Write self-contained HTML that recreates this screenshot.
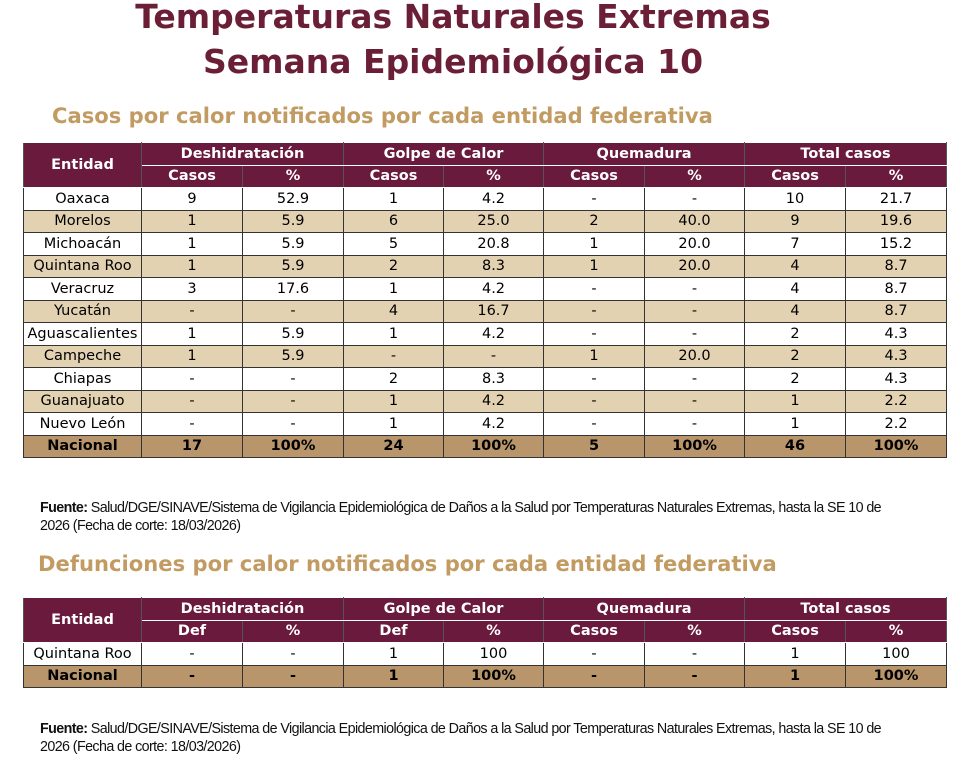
<!DOCTYPE html>
<html><head><meta charset="utf-8"><style>
body{margin:0;width:968px;height:758px;background:#fff;position:relative;overflow:hidden;font-family:"DejaVu Sans","Liberation Sans",sans-serif}
.t{position:absolute;left:0;width:906px;text-align:center;color:#6b1f37;font-weight:bold;font-size:33px;letter-spacing:0px}
.s{position:absolute;color:#c29b62;font-weight:bold;font-size:21.1px;white-space:nowrap}
table{position:absolute;left:23px;border-collapse:collapse;table-layout:fixed;width:923px;font-size:14.5px}
td{border:1px solid #333;text-align:center;padding:0;height:21.5px;line-height:20px;white-space:nowrap;overflow:hidden}
.h td{background:#6a1a3c;color:#fff;font-weight:bold;border-color:#fff #555}
.a td{background:#e3d2b2}
.n td{background:#b8956a;font-weight:bold}
.f{position:absolute;left:40px;font-family:"Liberation Sans",sans-serif;font-size:14.3px;letter-spacing:-0.6px;line-height:18px;color:#111;white-space:nowrap}
</style></head><body>
<div class="t" style="top:-3px">Temperaturas Naturales Extremas</div>
<div class="t" style="top:42px">Semana Epidemiológica 10</div>
<div class="s" style="top:103px;left:52px">Casos por calor notificados por cada entidad federativa</div>
<table style="top:142px">
<colgroup><col style="width:118px"><col style="width:101px"><col style="width:101px"><col style="width:100px"><col style="width:100px"><col style="width:101px"><col style="width:100px"><col style="width:101px"><col style="width:101px"></colgroup>
<tr class="h"><td rowspan="2">Entidad</td><td colspan="2">Deshidratación</td><td colspan="2">Golpe de Calor</td><td colspan="2">Quemadura</td><td colspan="2">Total casos</td></tr>
<tr class="h"><td>Casos</td><td>%</td><td>Casos</td><td>%</td><td>Casos</td><td>%</td><td>Casos</td><td>%</td></tr>
<tr><td>Oaxaca</td><td>9</td><td>52.9</td><td>1</td><td>4.2</td><td>-</td><td>-</td><td>10</td><td>21.7</td></tr>
<tr class="a"><td>Morelos</td><td>1</td><td>5.9</td><td>6</td><td>25.0</td><td>2</td><td>40.0</td><td>9</td><td>19.6</td></tr>
<tr><td>Michoacán</td><td>1</td><td>5.9</td><td>5</td><td>20.8</td><td>1</td><td>20.0</td><td>7</td><td>15.2</td></tr>
<tr class="a"><td>Quintana Roo</td><td>1</td><td>5.9</td><td>2</td><td>8.3</td><td>1</td><td>20.0</td><td>4</td><td>8.7</td></tr>
<tr><td>Veracruz</td><td>3</td><td>17.6</td><td>1</td><td>4.2</td><td>-</td><td>-</td><td>4</td><td>8.7</td></tr>
<tr class="a"><td>Yucatán</td><td>-</td><td>-</td><td>4</td><td>16.7</td><td>-</td><td>-</td><td>4</td><td>8.7</td></tr>
<tr><td>Aguascalientes</td><td>1</td><td>5.9</td><td>1</td><td>4.2</td><td>-</td><td>-</td><td>2</td><td>4.3</td></tr>
<tr class="a"><td>Campeche</td><td>1</td><td>5.9</td><td>-</td><td>-</td><td>1</td><td>20.0</td><td>2</td><td>4.3</td></tr>
<tr><td>Chiapas</td><td>-</td><td>-</td><td>2</td><td>8.3</td><td>-</td><td>-</td><td>2</td><td>4.3</td></tr>
<tr class="a"><td>Guanajuato</td><td>-</td><td>-</td><td>1</td><td>4.2</td><td>-</td><td>-</td><td>1</td><td>2.2</td></tr>
<tr><td>Nuevo León</td><td>-</td><td>-</td><td>1</td><td>4.2</td><td>-</td><td>-</td><td>1</td><td>2.2</td></tr>
<tr class="n"><td>Nacional</td><td>17</td><td>100%</td><td>24</td><td>100%</td><td>5</td><td>100%</td><td>46</td><td>100%</td></tr>
</table>
<div class="f" style="top:499px"><b>Fuente:</b> Salud/DGE/SINAVE/Sistema de Vigilancia Epidemiológica de Daños a la Salud por Temperaturas Naturales Extremas, hasta la SE 10 de<br>2026 (Fecha de corte: 18/03/2026)</div>
<div class="s" style="top:551px;left:38px">Defunciones por calor notificados por cada entidad federativa</div>
<table style="top:597px">
<colgroup><col style="width:118px"><col style="width:101px"><col style="width:101px"><col style="width:100px"><col style="width:100px"><col style="width:101px"><col style="width:100px"><col style="width:101px"><col style="width:101px"></colgroup>
<tr class="h"><td rowspan="2">Entidad</td><td colspan="2">Deshidratación</td><td colspan="2">Golpe de Calor</td><td colspan="2">Quemadura</td><td colspan="2">Total casos</td></tr>
<tr class="h"><td>Def</td><td>%</td><td>Def</td><td>%</td><td>Casos</td><td>%</td><td>Casos</td><td>%</td></tr>
<tr><td>Quintana Roo</td><td>-</td><td>-</td><td>1</td><td>100</td><td>-</td><td>-</td><td>1</td><td>100</td></tr>
<tr class="n"><td>Nacional</td><td>-</td><td>-</td><td>1</td><td>100%</td><td>-</td><td>-</td><td>1</td><td>100%</td></tr>
</table>
<div class="f" style="top:720px"><b>Fuente:</b> Salud/DGE/SINAVE/Sistema de Vigilancia Epidemiológica de Daños a la Salud por Temperaturas Naturales Extremas, hasta la SE 10 de<br>2026 (Fecha de corte: 18/03/2026)</div>
</body></html>
